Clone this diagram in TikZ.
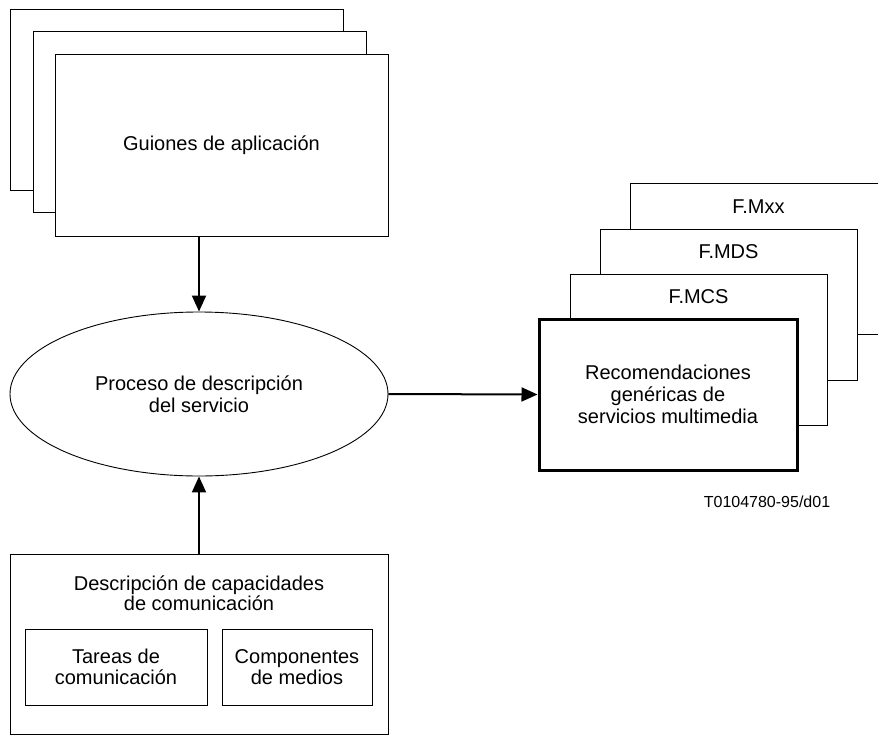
\documentclass[tikz,border=0pt]{standalone}
\usepackage{fontspec}
\setmainfont{Liberation Sans}
\usetikzlibrary{shapes.geometric,arrows.meta}
\begin{document}
\begin{tikzpicture}[x=1pt,y=-1pt,
  txt/.style={inner sep=0pt,align=center,font=\fontsize{20}{22}\selectfont},
  box/.style={draw,line width=0.9pt,fill=white,rectangle,inner sep=0pt,
    align=center,font=\fontsize{20}{22}\selectfont},
  boldbox/.style={box,line width=3pt},
  proc/.style={draw,line width=0.9pt,ellipse,inner sep=0pt,align=center,
    font=\fontsize{20}{22}\selectfont},
  arr/.style={line width=2pt,-{Triangle[length=16pt,width=14pt]}}]
\useasboundingbox (0,0) rectangle (878,736);
\clip (0,0) rectangle (878,736);

% stacked application scripts
\node[box,minimum width=333pt,minimum height=181pt] (gb) at (176.5,99.5) {};
\node[box,minimum width=333pt,minimum height=181pt] (gm) at (199.5,121.5) {};
\node[box,minimum width=333pt,minimum height=182pt] (gf) at (221.5,145) {Guiones de aplicación};

% stacked recommendations
\node[box,minimum width=257pt,minimum height=151pt] (mxx) at (758.5,258.5) {};
\node[txt] (mxxt) at ([yshift=-24pt]mxx.north) {F.Mxx};
\node[box,minimum width=257pt,minimum height=151pt] (mds) at (728.5,304.5) {};
\node[txt] (mdst) at ([yshift=-23pt]mds.north) {F.MDS};
\node[box,minimum width=257pt,minimum height=151pt] (mcs) at (698.5,349.5) {};
\node[txt] (mcst) at ([yshift=-23pt]mcs.north) {F.MCS};
\node[boldbox,minimum width=258pt,minimum height=151pt] (rec) at (668,394.5)
  {Recomendaciones\\genéricas de\\servicios multimedia};

% service description process
\node[proc,minimum width=378pt,minimum height=164pt] (proc) at (199,394)
  {Proceso de descripción\\del servicio};

% communication capabilities
\node[box,minimum width=378pt,minimum height=180pt] (cap) at (199,644) {};
\node[txt,font=\fontsize{20}{20.5}\selectfont] (capt) at (199,593)
  {Descripción de capacidades\\de comunicación};
\node[box,minimum width=182pt,minimum height=76pt,font=\fontsize{20}{20.5}\selectfont] (tar) at (116,667)
  {Tareas de\\comunicación};
\node[box,minimum width=150pt,minimum height=76pt,font=\fontsize{20}{20.5}\selectfont] (comp) at (297,667)
  {Componentes\\de medios};

% reference label
\node[txt,font=\fontsize{16}{18}\selectfont] (ref) at (767,502) {T0104780-95/d01};

% connectors
\draw[arr] (proc.north |- gf.south) -- (proc.north);
\draw[arr] (proc.south |- cap.north) -- (proc.south);
\draw[arr] (proc.east) -- (rec.west);
\end{tikzpicture}
\end{document}
